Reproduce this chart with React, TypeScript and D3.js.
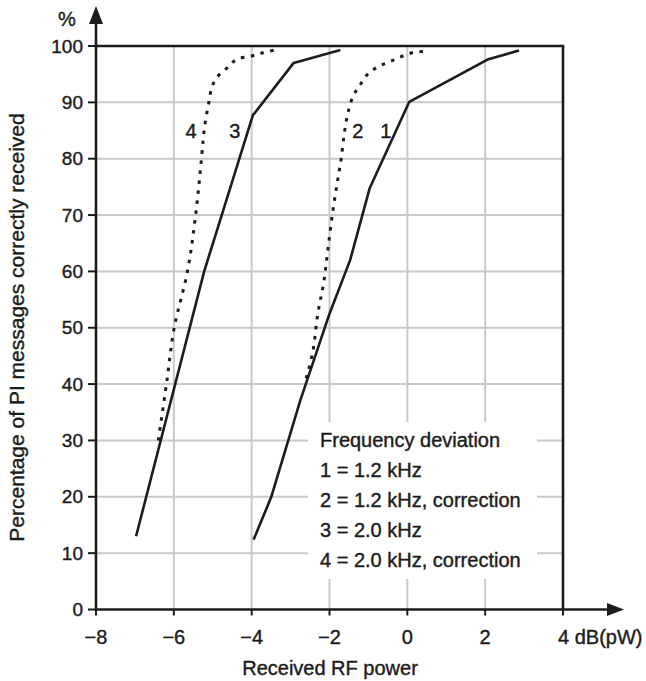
import React from "react";
import * as d3 from "d3";

type P = [number, number];

const xTicks = [-8, -6, -4, -2, 0, 2, 4];
const xTickLabels = ["\u22128", "\u22126", "\u22124", "\u22122", "0", "2", "4"];
const yTicks = [0, 10, 20, 30, 40, 50, 60, 70, 80, 90, 100];
const xGrid = [-6, -4, -2, 0, 2];
const yGrid = [10, 20, 30, 40, 50, 60, 70, 80, 90];

// 1 = 1.2 kHz (solid)
const curve1: P[] = [
  [-3.95, 12.4], [-3.5, 19.9], [-2.75, 37.1], [-2.0, 52.5], [-1.47, 62],
  [-0.97, 74.7], [0.05, 90.1], [2.06, 97.6], [2.87, 99.2],
];
// 2 = 1.2 kHz, correction (dotted)
const curve2: P[] = [
  [-2.6, 41], [-2.43, 45.7], [-2.3, 52.5], [-2.15, 58], [-2.04, 64], [-1.91, 70.9],
  [-1.79, 76.2], [-1.7, 80], [-1.62, 84.5], [-1.53, 88], [-1.4, 91], [-1.23, 92.9],
  [-1.02, 95], [-0.76, 96.3], [-0.46, 97.2], [-0.16, 98.1], [0.18, 98.9], [0.56, 99],
];
// 3 = 2.0 kHz (solid)
const curve3: P[] = [
  [-6.97, 13], [-5.22, 60], [-3.97, 87.7], [-2.92, 97], [-1.72, 99.3],
];
// 4 = 2.0 kHz, correction (dotted)
const curve4: P[] = [
  [-6.4, 30], [-6.19, 40], [-5.99, 50], [-5.65, 60], [-5.44, 70], [-5.29, 80],
  [-5.21, 85.7], [-5.1, 90], [-5.03, 92.5], [-4.91, 94.3], [-4.65, 96], [-4.39, 97.6],
  [-4.01, 98.2], [-3.71, 98.8], [-3.41, 99.3],
];

const curveLabels = ["1", "2", "3", "4"];
const curveLabelPos: P[] = [[-0.55, 85], [-1.27, 85], [-4.43, 85], [-5.56, 85]];

const legendTitle = "Frequency deviation";
const legendItems = [
  "1 = 1.2 kHz",
  "2 = 1.2 kHz, correction",
  "3 = 2.0 kHz",
  "4 = 2.0 kHz, correction",
];

const yTitle = "Percentage of PI messages correctly received";
const xTitle = "Received RF power";
const xUnit = "dB(pW)";
const yUnit = "%";

const W = 646;
const H = 681;
const FONT = "'Liberation Sans', Arial, sans-serif";
const INK = "#1c1c1c";
const GRID = "#c9c9c9";

export default function App() {
  const x = d3.scaleLinear().domain([-8, 4]).range([96, 563]);
  const y = d3.scaleLinear().domain([0, 100]).range([609.5, 46]);
  const lineLin = d3.line<P>().x((d) => x(d[0])).y((d) => y(d[1]));
  const lineSmooth = d3
    .line<P>()
    .x((d) => x(d[0]))
    .y((d) => y(d[1]))
    .curve(d3.curveCatmullRom.alpha(0.5));

  const x0 = x(-8);
  const x1 = x(4);
  const y0 = y(0);
  const y1 = y(100);

  const legX = 320;
  const legTop = 447;
  const legStep = 30;

  return (
    <div style={{ position: "absolute", left: 0, top: 0 }}>
      <svg width={W} height={H} style={{ display: "block", background: "#fff" }} fontFamily={FONT}>
        <rect x={0} y={0} width={W} height={H} fill="#fff" />
        {/* grid */}
        {xGrid.map((v) => (
          <line key={"gx" + v} x1={x(v)} x2={x(v)} y1={y1} y2={y0} stroke={GRID} strokeWidth={2} />
        ))}
        {yGrid.map((v) => (
          <line key={"gy" + v} x1={x0} x2={x1} y1={y(v)} y2={y(v)} stroke={GRID} strokeWidth={2} />
        ))}
        {/* legend background */}
        <rect x={308} y={422} width={229} height={157} fill="#fff" />

        {/* curves */}
        <path d={lineLin(curve1) || ""} fill="none" stroke={INK} strokeWidth={2.6} strokeLinejoin="round" />
        <path d={lineLin(curve3) || ""} fill="none" stroke={INK} strokeWidth={2.6} strokeLinejoin="round" />
        <path d={lineSmooth(curve2) || ""} fill="none" stroke={INK} strokeWidth={3} strokeDasharray="3.5 6.5" />
        <path d={lineSmooth(curve4) || ""} fill="none" stroke={INK} strokeWidth={3} strokeDasharray="3.5 6.5" />

        <g fill={INK} stroke={INK} strokeWidth={0.4}>
          {/* curve labels */}
          {curveLabels.map((t, i) => (
            <text
              key={"cl" + t}
              x={x(curveLabelPos[i][0])}
              y={y(curveLabelPos[i][1])}
              textAnchor="middle"
              dominantBaseline="central"
              fontSize={20}
            >
              {t}
            </text>
          ))}
        </g>

        {/* frame: top and right */}
        <line x1={x0} x2={x1 + 1.2} y1={y1} y2={y1} stroke={INK} strokeWidth={2.6} />
        <line x1={x1} x2={x1} y1={y1} y2={y0} stroke={INK} strokeWidth={2.6} />

        {/* y axis with arrow */}
        <line x1={x0} x2={x0} y1={y0 + 1} y2={20} stroke={INK} strokeWidth={2.6} />
        <path d={`M${x0},6 L${x0 - 7},24 L${x0 + 7},24 Z`} fill={INK} />
        {/* x axis with arrow */}
        <line x1={x0 - 1} x2={612} y1={y0} y2={y0} stroke={INK} strokeWidth={2.6} />
        <path d={`M624,${y0} L607,${y0 - 6.5} L607,${y0 + 6.5} Z`} fill={INK} />

        {/* y ticks */}
        {yTicks.map((v) => (
          <line key={"ytl" + v} x1={x0 - 8} x2={x0} y1={y(v)} y2={y(v)} stroke={INK} strokeWidth={2} />
        ))}
        {/* x ticks */}
        {xTicks.map((v) => (
          <line key={"xtl" + v} x1={x(v)} x2={x(v)} y1={y0} y2={y0 + 6} stroke={INK} strokeWidth={2} />
        ))}

        <g fill={INK} stroke={INK} strokeWidth={0.4}>
          {yTicks.map((v) => (
            <text key={"yt" + v} x={83} y={y(v)} textAnchor="end" dominantBaseline="central" fontSize={19}>
              {v}
            </text>
          ))}
          {xTicks.map((v, i) =>
            v === 4 ? (
              <text key={"xt" + v} x={x(v) - 5} y={644} textAnchor="start" fontSize={20}>
                {xTickLabels[i]} {xUnit}
              </text>
            ) : (
              <text key={"xt" + v} x={x(v)} y={644} textAnchor="middle" fontSize={20}>
                {xTickLabels[i]}
              </text>
            )
          )}

          {/* unit % */}
          <text x={67} y={26} textAnchor="middle" fontSize={20}>
            {yUnit}
          </text>

          {/* axis titles */}
          <text x={330} y={675} textAnchor="middle" fontSize={20}>
            {xTitle}
          </text>
          <text transform={`translate(24,${327.5}) rotate(-90)`} textAnchor="middle" fontSize={21}>
            {yTitle}
          </text>

          {/* legend */}
          <text x={legX} y={legTop} fontSize={20}>
            {legendTitle}
          </text>
          {legendItems.map((t, i) => (
            <text key={"lg" + i} x={legX} y={legTop + legStep * (i + 1)} fontSize={20}>
              {t}
            </text>
          ))}
        </g>
      </svg>
    </div>
  );
}
